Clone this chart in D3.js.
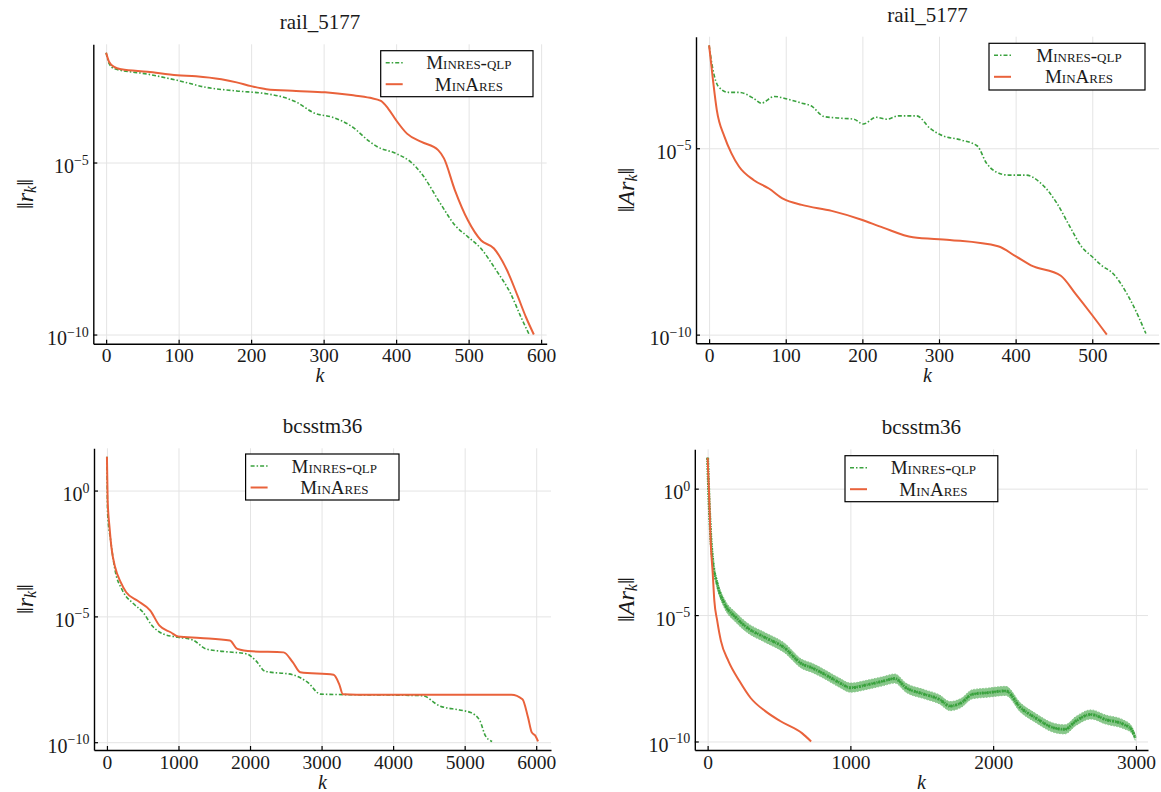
<!DOCTYPE html>
<html>
<head>
<meta charset="utf-8">
<script src="https://cdn.jsdelivr.net/npm/d3@7"></script>
<style>
body { margin: 0; background: #fff; }
svg text { font-family: "Liberation Serif", "DejaVu Serif", serif; fill: #1a1a1a; }
</style>
</head>
<body>
<div class="svg-container"></div>
<script>
// ---- data: iteration k and log10 of the norm ----

// rail_5177, ||r_k||
var rail_r_qlp_k = [0, 4, 11, 57, 98, 139, 180, 221, 246, 262, 287, 313, 338, 364, 374, 400, 420, 435, 461, 481, 499, 517, 538, 558, 573, 584];
var rail_r_qlp_v = [-1.81, -2.12, -2.27, -2.43, -2.61, -2.82, -2.92, -3.0, -3.11, -3.24, -3.56, -3.69, -3.94, -4.40, -4.54, -4.74, -4.98, -5.32, -6.19, -6.82, -7.16, -7.50, -8.13, -8.81, -9.53, -10.02];
var rail_r_ares_k = [0, 4, 11, 21, 57, 98, 124, 159, 180, 200, 221, 262, 302, 338, 364, 379, 389, 400, 415, 435, 458, 466, 481, 499, 517, 535, 553, 568, 579, 590];
var rail_r_ares_v = [-1.81, -2.07, -2.22, -2.29, -2.36, -2.46, -2.49, -2.58, -2.67, -2.78, -2.87, -2.92, -2.96, -3.04, -3.12, -3.21, -3.43, -3.77, -4.16, -4.40, -4.64, -4.88, -5.80, -6.68, -7.26, -7.50, -8.13, -8.90, -9.49, -10.0];

// rail_5177, ||A r_k||
var rail_ar_qlp_k = [0, 5, 12, 25, 39, 58, 68, 85, 102, 121, 133, 150, 169, 189, 201, 218, 232, 247, 271, 288, 302, 329, 350, 362, 374, 391, 413, 432, 454, 471, 486, 500, 512, 527, 551, 570];
var rail_ar_qlp_v = [-2.24, -2.89, -3.34, -3.50, -3.50, -3.66, -3.79, -3.61, -3.68, -3.79, -3.86, -4.15, -4.19, -4.22, -4.35, -4.17, -4.22, -4.13, -4.13, -4.46, -4.64, -4.78, -4.94, -5.40, -5.63, -5.72, -5.72, -5.92, -6.48, -7.11, -7.64, -7.91, -8.14, -8.36, -9.12, -9.97];
var rail_ar_ares_k = [0, 5, 10, 20, 29, 39, 58, 78, 97, 121, 160, 198, 227, 266, 314, 377, 401, 420, 459, 478, 500, 519];
var rail_ar_ares_v = [-2.24, -3.16, -3.97, -4.69, -5.13, -5.49, -5.85, -6.08, -6.36, -6.52, -6.68, -6.91, -7.13, -7.39, -7.46, -7.63, -7.91, -8.14, -8.42, -8.90, -9.48, -10.0];

// bcsstm36, ||r_k||
var bc_r_qlp_k = [0, 10, 52, 114, 217, 373, 502, 632, 787, 994, 1201, 1382, 1615, 1952, 2081, 2211, 2599, 2806, 2987, 4411, 4644, 4928, 5084, 5213, 5291, 5384];
var bc_r_qlp_v = [1.34, -0.92, -1.98, -3.17, -3.97, -4.50, -4.83, -5.37, -5.70, -5.83, -5.94, -6.29, -6.39, -6.49, -6.76, -7.18, -7.32, -7.62, -8.09, -8.15, -8.55, -8.72, -8.82, -9.15, -9.75, -9.97];
var bc_r_ares_k = [0, 10, 36, 62, 114, 192, 269, 424, 606, 735, 890, 994, 1304, 1719, 1822, 2029, 2469, 2599, 2702, 3168, 3246, 3298, 3686, 5653, 5808, 5886, 5938, 5990, 6026];
var bc_r_ares_v = [1.34, -0.39, -1.45, -2.24, -3.04, -3.64, -4.04, -4.37, -4.77, -5.37, -5.63, -5.80, -5.86, -5.96, -6.29, -6.39, -6.43, -6.83, -7.22, -7.32, -7.69, -8.09, -8.11, -8.11, -8.29, -9.02, -9.61, -9.75, -9.97];

// bcsstm36, ||A r_k||  (Minres-qlp is a noisy band: centre values and half-width in decades)
var bc_ar_qlp_k = [0, 10, 21, 36, 67, 119, 197, 275, 404, 534, 663, 728, 819, 922, 1000, 1130, 1233, 1311, 1389, 1518, 1622, 1699, 1777, 1855, 1959, 2088, 2192, 2295, 2425, 2503, 2580, 2684, 2788, 2917, 2969, 2995];
var bc_ar_qlp_v = [1.22, -0.46, -1.79, -2.84, -3.77, -4.56, -5.09, -5.49, -5.89, -6.28, -6.94, -7.08, -7.34, -7.67, -7.87, -7.74, -7.61, -7.51, -7.87, -8.13, -8.33, -8.60, -8.47, -8.13, -8.07, -8.00, -8.66, -9.06, -9.46, -9.52, -9.19, -8.93, -9.13, -9.33, -9.52, -9.85];
var bc_ar_qlp_spread = [0, 0.03, 0.06, 0.1, 0.15, 0.18, 0.19, 0.19, 0.19, 0.19, 0.18, 0.18, 0.18, 0.18, 0.18, 0.18, 0.18, 0.18, 0.18, 0.18, 0.18, 0.18, 0.18, 0.18, 0.18, 0.18, 0.18, 0.18, 0.18, 0.18, 0.18, 0.18, 0.18, 0.17, 0.14, 0.1];
var bc_ar_ares_k = [0, 10, 21, 36, 47, 67, 93, 145, 223, 300, 404, 508, 663, 725];
var bc_ar_ares_v = [1.22, -0.20, -2.05, -3.37, -4.43, -5.22, -6.02, -6.81, -7.61, -8.27, -8.80, -9.19, -9.68, -10.0];

// ticks and labels
var titles = ["rail_5177", "rail_5177", "bcsstm36", "bcsstm36"];
var series_names = ["Minres-qlp", "MinAres"];
var xticks_rail_r = [0, 100, 200, 300, 400, 500, 600];
var xticks_rail_ar = [0, 100, 200, 300, 400, 500];
var xticks_bc_r = [0, 1000, 2000, 3000, 4000, 5000, 6000];
var xticks_bc_ar = [0, 1000, 2000, 3000];
var yticks_rail = [-10, -5];
var yticks_bc = [-10, -5, 0];

var col_qlp = "#3aa23e",
    col_ares = "#e9623b";
var qlp_dash = "4,2,1.5,2";

var fullWidth = 1161,
    fullHeight = 792;

var svg = d3.select(".svg-container")
    .append("svg")
    .attr("width", fullWidth)
    .attr("height", fullHeight)
    .attr("font-family", "'Liberation Serif', 'DejaVu Serif', serif");

function zip(ks, vs, sp) {
    return ks.map((k, i) => [k, vs[i], sp ? sp[i] : 0]);
}

// plot-area boxes and legend boxes
var panels = [
    {title: titles[0], A: false, xticks: xticks_rail_r, yticks: yticks_rail,
     box: {left: 93.3, top: 44.3, right: 546.7, bottom: 343.7},
     legend: {x: 380.7, y: 50.7, w: 152.3, h: 46},
     ylab_x: 25,
     qlp: zip(rail_r_qlp_k, rail_r_qlp_v), ares: zip(rail_r_ares_k, rail_r_ares_v)},
    {title: titles[1], A: true, xticks: xticks_rail_ar, yticks: yticks_rail,
     box: {left: 696, top: 36.7, right: 1159, bottom: 343.3},
     legend: {x: 989, y: 43.3, w: 156, h: 46.7},
     ylab_x: 626,
     qlp: zip(rail_ar_qlp_k, rail_ar_qlp_v), ares: zip(rail_ar_ares_k, rail_ar_ares_v)},
    {title: titles[2], A: false, xticks: xticks_bc_r, yticks: yticks_bc,
     box: {left: 94, top: 448.3, right: 551, bottom: 750},
     legend: {x: 245.6, y: 454, w: 153.4, h: 46},
     ylab_x: 25,
     qlp: zip(bc_r_qlp_k, bc_r_qlp_v), ares: zip(bc_r_ares_k, bc_r_ares_v)},
    {title: titles[3], A: true, xticks: xticks_bc_ar, yticks: yticks_bc, band: true,
     box: {left: 694.8, top: 449.3, right: 1148, bottom: 750},
     legend: {x: 845, y: 455.7, w: 152.8, h: 46},
     ylab_x: 626,
     qlp: zip(bc_ar_qlp_k, bc_ar_qlp_v, bc_ar_qlp_spread), ares: zip(bc_ar_ares_k, bc_ar_ares_v)}
];

function draw_panel(p) {
    var b = p.box;
    var g = svg.append("g");
    var all = p.qlp.concat(p.ares);

    // Plots-style 3% padding on both axes
    var kmin = d3.min(all, d => d[0]), kmax = d3.max(all, d => d[0]), kr = kmax - kmin;
    var vmin = d3.min(all, d => d[1]), vmax = d3.max(all, d => d[1]), vr = vmax - vmin;
    var x = d3.scaleLinear()
        .domain([kmin - 0.03 * kr, kmax + 0.03 * kr])
        .range([b.left, b.right]);
    var y = d3.scaleLog()
        .domain([Math.pow(10, vmin - 0.03 * vr), Math.pow(10, vmax + 0.03 * vr)])
        .range([b.bottom, b.top]);
    var ytickvals = p.yticks.map(e => Math.pow(10, e));

    // grid
    g.append("g")
        .attr("transform", "translate(0," + b.bottom + ")")
        .call(d3.axisBottom(x).tickValues(p.xticks).tickSize(-(b.bottom - b.top)).tickFormat(""))
        .call(a => a.select(".domain").remove())
        .selectAll("line").attr("stroke", "#e4e4e4").attr("stroke-width", 1);
    g.append("g")
        .attr("transform", "translate(" + b.left + ",0)")
        .call(d3.axisLeft(y).tickValues(ytickvals).tickSize(-(b.right - b.left)).tickFormat(""))
        .call(a => a.select(".domain").remove())
        .selectAll("line").attr("stroke", "#e4e4e4").attr("stroke-width", 1);

    // series
    var line = d3.line()
        .x(d => x(d[0]))
        .y(d => y(Math.pow(10, d[1])))
        .curve(d3.curveMonotoneX);

    if (p.band) {
        var area = d3.area()
            .x(d => x(d[0]))
            .y0(d => y(Math.pow(10, d[1] - d[2])))
            .y1(d => y(Math.pow(10, d[1] + d[2])))
            .curve(d3.curveMonotoneX);
        g.append("path")
            .attr("d", area(p.qlp))
            .attr("fill", col_qlp)
            .attr("opacity", 0.6)
            .attr("stroke", col_qlp)
            .attr("stroke-width", 1)
            .attr("stroke-dasharray", "1.5,1.5");
        g.append("path")
            .attr("d", line(p.qlp))
            .attr("fill", "none")
            .attr("stroke", col_qlp)
            .attr("stroke-width", 3)
            .attr("stroke-dasharray", "2,1,1,1");
    }
    g.append("path")
        .attr("d", line(p.qlp))
        .attr("fill", "none")
        .attr("stroke", col_qlp)
        .attr("stroke-width", 1.6)
        .attr("stroke-dasharray", qlp_dash);
    g.append("path")
        .attr("d", line(p.ares))
        .attr("fill", "none")
        .attr("stroke", col_ares)
        .attr("stroke-width", 2)
        .attr("stroke-linejoin", "round");

    // axes
    var xa = g.append("g")
        .attr("transform", "translate(0," + b.bottom + ")")
        .call(d3.axisBottom(x).tickValues(p.xticks).tickSize(-4).tickSizeOuter(0).tickPadding(4.5).tickFormat(d3.format("d")));
    var ya = g.append("g")
        .attr("transform", "translate(" + b.left + ",0)")
        .call(d3.axisLeft(y).tickValues(ytickvals).tickSize(-4).tickSizeOuter(0).tickPadding(4.5).tickFormat(""));
    [xa, ya].forEach(function(a) {
        a.attr("font-family", null);
        a.select(".domain").attr("stroke", "#000").attr("stroke-width", 1.4);
        a.selectAll(".tick line").attr("stroke", "#000").attr("stroke-width", 1.2);
        a.selectAll("text").attr("font-size", "20px").attr("fill", "#1a1a1a");
    });
    xa.selectAll("text").attr("font-size", "19.5px").attr("dy", "0.72em");

    // 10^e labels with superscript
    ya.selectAll(".tick text").each(function(d) {
        var t = d3.select(this).attr("dy", "0.5em");
        var e = Math.round(Math.log10(d));
        t.append("tspan").text("10");
        t.append("tspan")
            .attr("dy", -8.5)
            .attr("font-size", "14px")
            .text(e < 0 ? "\u2212" + (-e) : "" + e);
    });

    // title
    g.append("text")
        .attr("x", (b.left + b.right) / 2)
        .attr("y", b.top - 15)
        .attr("text-anchor", "middle")
        .attr("font-size", "21px")
        .text(p.title);

    // x label
    g.append("text")
        .attr("x", (b.left + b.right) / 2)
        .attr("y", b.bottom + 38.5)
        .attr("text-anchor", "middle")
        .attr("font-size", "20px")
        .attr("font-style", "italic")
        .text("k");

    // y label  ||r_k|| or ||Ar_k||
    var yl = g.append("text")
        .attr("transform", "translate(" + p.ylab_x + "," + ((b.top + b.bottom) / 2) + ") rotate(-90)")
        .attr("text-anchor", "middle")
        .attr("dominant-baseline", "central")
        .attr("font-size", "24px");
    yl.append("tspan").text("\u2016");
    yl.append("tspan").attr("font-style", "italic").text(p.A ? "Ar" : "r");
    yl.append("tspan").attr("font-style", "italic").attr("font-size", "16px").attr("dy", 5).text("k");
    yl.append("tspan").attr("dy", -5).text("\u2016");

    // legend
    var L = p.legend;
    var lg = g.append("g").attr("transform", "translate(" + L.x + "," + L.y + ")");
    lg.append("rect")
        .attr("width", L.w)
        .attr("height", L.h)
        .attr("fill", "#fff")
        .attr("stroke", "#000")
        .attr("stroke-width", 1.2);
    var rows = [
        {name: series_names[0], col: col_qlp, dash: qlp_dash, w: 1.6},
        {name: series_names[1], col: col_ares, dash: null, w: 2}
    ];
    rows.forEach(function(r, i) {
        var cy = 12 + i * 21.5;
        lg.append("line")
            .attr("x1", 5).attr("x2", 22)
            .attr("y1", cy).attr("y2", cy)
            .attr("stroke", r.col)
            .attr("stroke-width", r.w)
            .attr("stroke-dasharray", r.dash);
        lg.append("text")
            .attr("x", 26 + (L.w - 28) / 2)
            .attr("y", cy)
            .attr("dy", "0.35em")
            .attr("text-anchor", "middle")
            .attr("font-size", "19px")
            .style("font-variant", "small-caps")
            .text(r.name);
    });
}

panels.forEach(draw_panel);
</script>
</body>
</html>
